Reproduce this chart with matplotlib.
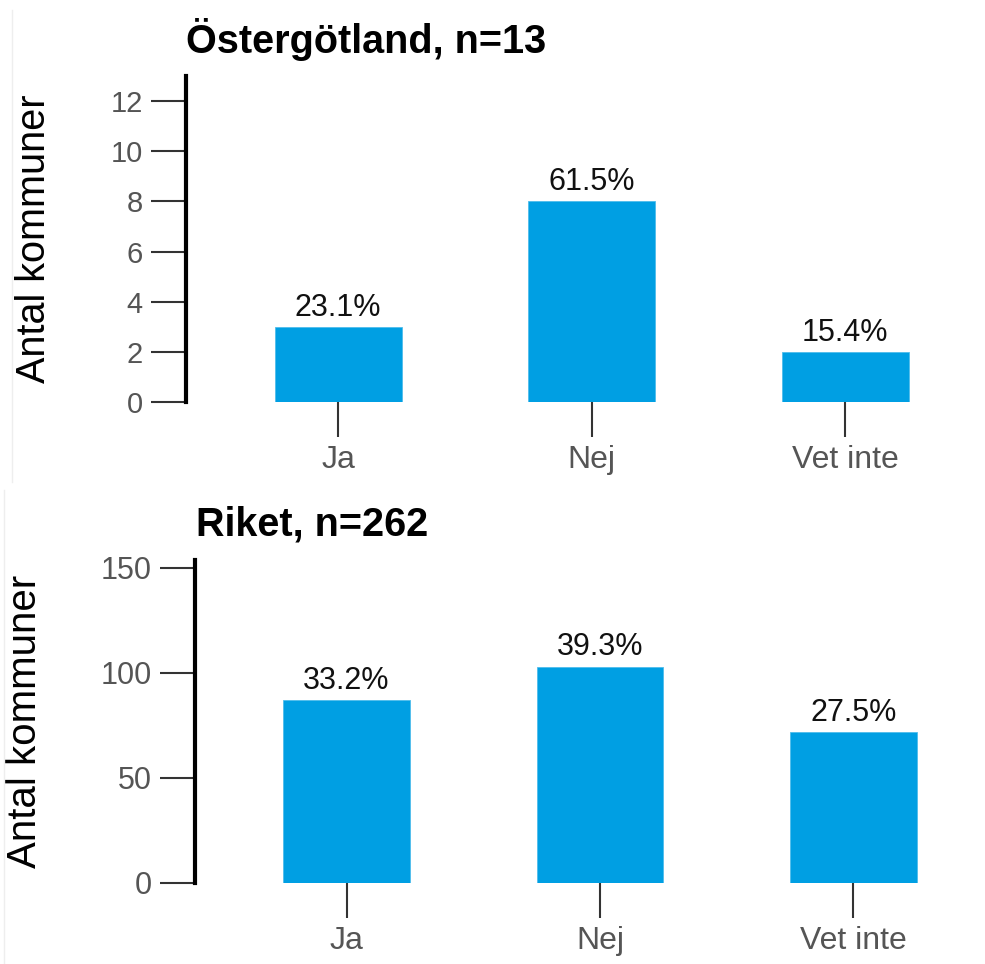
import matplotlib
matplotlib.use("Agg")
import matplotlib.pyplot as plt
from matplotlib.lines import Line2D

plt.rcParams['font.family'] = ['Liberation Sans', 'DejaVu Sans']

categories = ["Ja", "Nej", "Vet inte"]
ost_counts = [3, 8, 2]
ost_pct = ["23.1%", "61.5%", "15.4%"]
riket_counts = [87, 103, 72]
riket_pct = ["33.2%", "39.3%", "27.5%"]
titles = ["Östergötland, n=13", "Riket, n=262"]
ost_ticks = [0, 2, 4, 6, 8, 10, 12]
riket_ticks = [0, 50, 100, 150]

W, H = 985, 964
fig = plt.figure(figsize=(W / 100, H / 100), dpi=100)
BAR = '#009FE3'

def px_axes(left, top, right, bottom):
    return fig.add_axes([left / W, 1 - bottom / H, (right - left) / W, (bottom - top) / H])

def style(ax, counts, pcts, ticks, ylim, ytick_fs, xtick_fs, title, title_x, title_y,
          ylabel_x, ylabel_fs, pct_fs):
    ax.bar(range(len(categories)), counts, width=0.5, color=BAR, edgecolor='#4fbdec', linewidth=0.6)
    ax.set_xlim(-0.6, 2.5)
    ax.set_ylim(0, ylim)
    for s in ['top', 'right', 'bottom']:
        ax.spines[s].set_visible(False)
    ax.spines['left'].set_linewidth(3.0)
    ax.spines['left'].set_color('black')
    ax.set_yticks(ticks)
    ax.set_xticks(range(len(categories)))
    ax.set_xticklabels(categories)
    ax.tick_params(axis='both', direction='out', length=25, width=1.5, color='#333333',
                   labelcolor='#555555')
    ax.tick_params(axis='y', pad=6, labelsize=ytick_fs)
    ax.tick_params(axis='x', pad=6, labelsize=xtick_fs)
    ax.set_ylabel("Antal kommuner", fontsize=ylabel_fs, color='black')
    ax.yaxis.set_label_coords(ylabel_x, 0.5)
    for i, (c, p) in enumerate(zip(counts, pcts)):
        ax.annotate(p, (i, c), xytext=(0, 3), textcoords='offset points',
                    ha='center', va='bottom', fontsize=pct_fs, color='#111111')
    fig.text(title_x / W, 1 - title_y / H, title, fontsize=28.5, fontweight='bold',
             ha='left', va='baseline', color='black')
    ax.set_facecolor('none')

ax1 = px_axes(186, 76, 972, 402)
style(ax1, ost_counts, ost_pct, ost_ticks, 13, 21, 23, titles[0], 186, 53,
      (53 - 186) / 786, 28.5, 22)

ax2 = px_axes(194.5, 559.5, 980, 883)
style(ax2, riket_counts, riket_pct, riket_ticks, 154, 22, 23, titles[1], 196, 535,
      (44 - 194.5) / 785.5, 29, 22)

fig.add_artist(Line2D([12 / W, 12 / W], [1 - 10 / H, 1 - 482 / H], color='#eeeeee', lw=1))
fig.add_artist(Line2D([4 / W, 4 / W], [1 - 490 / H, 0], color='#eeeeee', lw=1))

fig.savefig("out.png", dpi=100)
